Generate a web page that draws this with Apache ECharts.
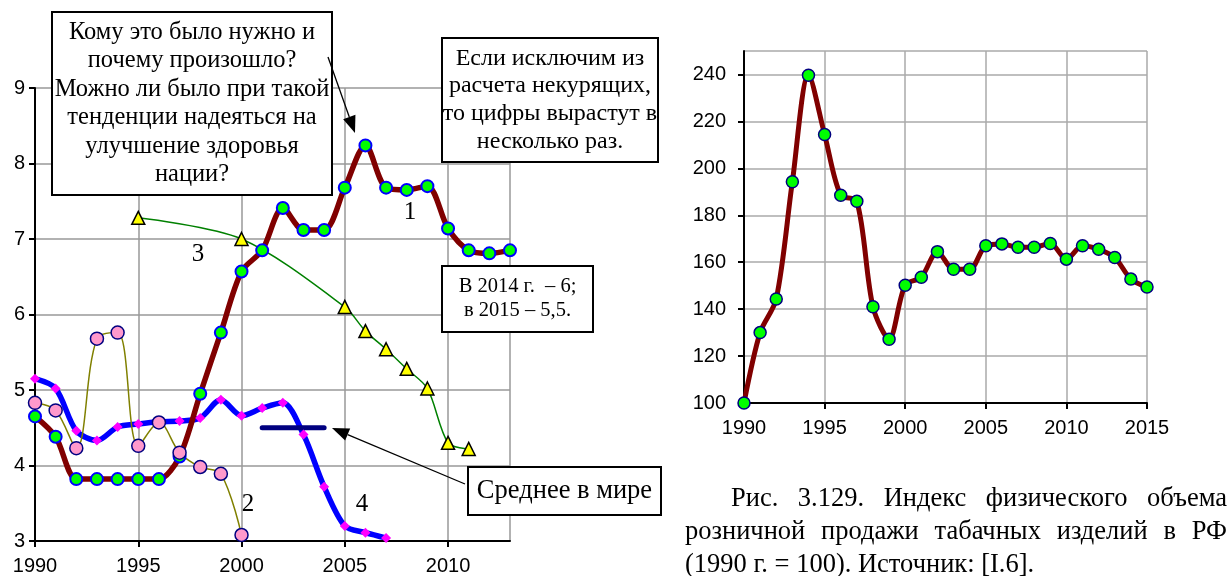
<!DOCTYPE html>
<html>
<head>
<meta charset="utf-8">
<script src="https://cdn.jsdelivr.net/npm/echarts@6/dist/echarts.min.js"></script>
<style>
html,body{margin:0;padding:0;background:#fff}
#main{width:1230px;height:576px}
</style>
</head>
<body>
<div id="main"></div>
<script>
// left chart: 1 - red, 2 - olive, 3 - green, 4 - blue
var s1Years = [1990,1991,1992,1993,1994,1995,1996,1997,1998,1999,2000,2001,2002,2003,2004,2005,2006,2007,2008,2009,2010,2011,2012,2013];
var s1Vals  = [4.65,4.38,3.82,3.82,3.82,3.82,3.82,4.12,4.95,5.76,6.57,6.85,7.41,7.12,7.12,7.68,8.24,7.68,7.65,7.70,7.14,6.85,6.81,6.85];
var s2Years = [1990,1991,1992,1993,1994,1995,1996,1997,1998,1999,2000];
var s2Vals  = [4.83,4.73,4.23,5.68,5.76,4.26,4.57,4.17,3.98,3.89,3.08];
var s3Years = [1995,2000,2005,2006,2007,2008,2009,2010,2011];
var s3Vals  = [7.28,7.0,6.1,5.78,5.54,5.28,5.02,4.3,4.22];
var s4Years = [1990,1991,1992,1993,1994,1995,1996,1997,1998,1999,2000,2001,2002,2003,2004,2005,2006,2007];
var s4Vals  = [5.15,5.02,4.46,4.33,4.51,4.55,4.58,4.59,4.63,4.87,4.66,4.76,4.83,4.41,3.72,3.20,3.11,3.04];
var avgYears = [2001,2004];
var avgVals  = [4.5,4.5];

// right chart: retail index (1990 = 100)
var rYears = [1990,1991,1992,1993,1994,1995,1996,1997,1998,1999,2000,2001,2002,2003,2004,2005,2006,2007,2008,2009,2010,2011,2012,2013,2014,2015];
var rVals  = [100,130,144.3,194.3,239.7,214.4,188.5,186,141,127.2,150.2,153.6,164.5,157,157,167,167.8,166.4,166.4,168,161.3,167,165.5,162,152.8,149.4];

var serif = '"Liberation Serif","Times New Roman",serif';
var sans = '"Liberation Sans",Arial,sans-serif';

function pairs(xs, ys) { return xs.map(function(x,i){ return [x, ys[i]]; }); }

function box(x, y, w, h, text, size, lh) {
	return [
		{type:'rect', shape:{x:x,y:y,width:w,height:h}, style:{fill:'#fff',stroke:'#000',lineWidth:2}, z:100},
		{type:'text', x:x+w/2, y:y+h/2, z:101, style:{text:text, font:size+'px '+serif, fill:'#000', align:'center', verticalAlign:'middle', lineHeight:lh}}
	];
}

function arrow(x0, y0, x1, y1) {
	var dx = x1-x0, dy = y1-y0, len = Math.sqrt(dx*dx+dy*dy);
	var ux = dx/len, uy = dy/len, L = 17, W = 6.5;
	var bx = x1-ux*L, by = y1-uy*L;
	return [
		{type:'line', shape:{x1:x0,y1:y0,x2:bx,y2:by}, style:{stroke:'#000',lineWidth:1.3}, z:102},
		{type:'polygon', shape:{points:[[x1,y1],[bx-uy*W,by+ux*W],[bx+uy*W,by-ux*W]]}, style:{fill:'#000'}, z:102}
	];
}

// justified caption lines
var ctx = document.createElement('canvas').getContext('2d');
var capFont = '26.5px ' + serif;
ctx.font = capFont;
function justify(line, x0, x1, y, just) {
	var words = line.split(' ');
	var ws = words.map(function(w){ return ctx.measureText(w).width; });
	var sum = ws.reduce(function(a,b){ return a+b; }, 0);
	var gap = just ? (x1-x0-sum)/(words.length-1) : ctx.measureText(' ').width;
	var out = [], x = x0;
	words.forEach(function(w,i){
		out.push({type:'text', x:x, y:y, style:{text:w, font:capFont, fill:'#000', align:'left', verticalAlign:'middle'}});
		x += ws[i] + gap;
	});
	return out;
}

function numLabel(txt, x, y) {
	return {type:'text', x:x, y:y, z:50, style:{text:txt, font:'25px '+serif, fill:'#000', align:'center', verticalAlign:'middle'}};
}

var graphics = []
	.concat(box(52, 12, 280, 183, 'Кому это было нужно и\nпочему произошло?\nМожно ли было при такой\nтенденции надеяться на\nулучшение здоровья\nнации?', 24.5, 28.5))
	.concat(box(442, 38, 216, 124, 'Если исключим из\nрасчета некурящих,\nто цифры вырастут в\nнесколько раз.', 24, 27.7))
	.concat(box(442, 266, 151, 66, 'В 2014 г.  – 6;\nв 2015 – 5,5.', 20.5, 24))
	.concat(box(468, 467, 193, 48, 'Среднее в мире', 26.5, 28))
	.concat(arrow(328, 57, 355, 133))
	.concat(arrow(465, 484, 332, 428))
	.concat([numLabel('1', 410, 212), numLabel('2', 248, 504), numLabel('3', 198, 254), numLabel('4', 362, 504)])
	.concat(justify('Рис. 3.129. Индекс физического объема', 731, 1227, 499, true))
	.concat(justify('розничной продажи табачных изделий в РФ', 685, 1227, 532, true))
	.concat(justify('(1990 г. = 100). Источник: [I.6].', 685, 1227, 565, false));

var axLine = {show:true, onZero:false, lineStyle:{color:'#000', width:2}};
var axTick = {show:true, inside:false, length:6, lineStyle:{color:'#000', width:2}};
var lbl = {color:'#000', fontFamily:sans, fontSize:20, formatter:function(v){ return String(v); }};

var chart = echarts.init(document.getElementById('main'));
chart.setOption({
	animation: false,
	backgroundColor: '#fff',
	grid: [
		{left:35, top:88, width:475, height:453},
		{left:744, top:51, width:403, height:352}
	],
	xAxis: [
		{type:'value', gridIndex:0, min:1990, max:2013, interval:5,
			axisLine:axLine, axisTick:axTick,
			axisLabel:Object.assign({margin:15, showMaxLabel:false}, lbl),
			splitLine:{show:true, lineStyle:{color:'#999', width:1.5}}},
		{type:'value', gridIndex:1, min:1990, max:2015, interval:5,
			axisLine:axLine, axisTick:axTick,
			axisLabel:Object.assign({margin:15}, lbl),
			splitLine:{show:true, lineStyle:{color:'#aaa', width:1.5}}}
	],
	yAxis: [
		{type:'value', gridIndex:0, min:3, max:9, interval:1,
			axisLine:axLine, axisTick:axTick,
			axisLabel:Object.assign({margin:10}, lbl),
			splitLine:{show:true, lineStyle:{color:'#999', width:1.5}}},
		{type:'value', gridIndex:1, min:100, max:250, interval:20,
			axisLine:axLine, axisTick:axTick,
			axisLabel:Object.assign({margin:18, showMaxLabel:false}, lbl),
			splitLine:{show:true, lineStyle:{color:'#aaa', width:1.5}}}
	],
	series: [
		{type:'line', xAxisIndex:0, yAxisIndex:0, data:pairs(s4Years, s4Vals), smooth:0.3,
			lineStyle:{color:'#0000ff', width:5.5},
			symbol:'diamond', symbolSize:10, itemStyle:{color:'#ff00ff', borderWidth:0}},
		{type:'line', xAxisIndex:0, yAxisIndex:0, data:pairs(avgYears, avgVals),
			lineStyle:{color:'#000080', width:5, cap:'round'}, symbol:'none'},
		{type:'line', xAxisIndex:0, yAxisIndex:0, data:pairs(s1Years, s1Vals), smooth:0.3,
			lineStyle:{color:'#800000', width:5.5},
			symbol:'circle', symbolSize:12, itemStyle:{color:'#00ff00', borderColor:'#0000ff', borderWidth:2}},
		{type:'line', xAxisIndex:0, yAxisIndex:0, data:pairs(s2Years, s2Vals), smooth:0.35,
			lineStyle:{color:'#808000', width:1.5},
			symbol:'circle', symbolSize:13, itemStyle:{color:'#ff99cc', borderColor:'#000080', borderWidth:1.5}},
		{type:'line', xAxisIndex:0, yAxisIndex:0, data:pairs(s3Years, s3Vals), smooth:0.3,
			lineStyle:{color:'#008000', width:1.5},
			symbol:'triangle', symbolSize:13, itemStyle:{color:'#ffff00', borderColor:'#000', borderWidth:1.5}},
		{type:'line', xAxisIndex:1, yAxisIndex:1, data:pairs(rYears, rVals), smooth:0.3,
			lineStyle:{color:'#800000', width:5},
			symbol:'circle', symbolSize:12, itemStyle:{color:'#00ff00', borderColor:'#000080', borderWidth:1.5}}
	],
	graphic: graphics
});
</script>
</body>
</html>
